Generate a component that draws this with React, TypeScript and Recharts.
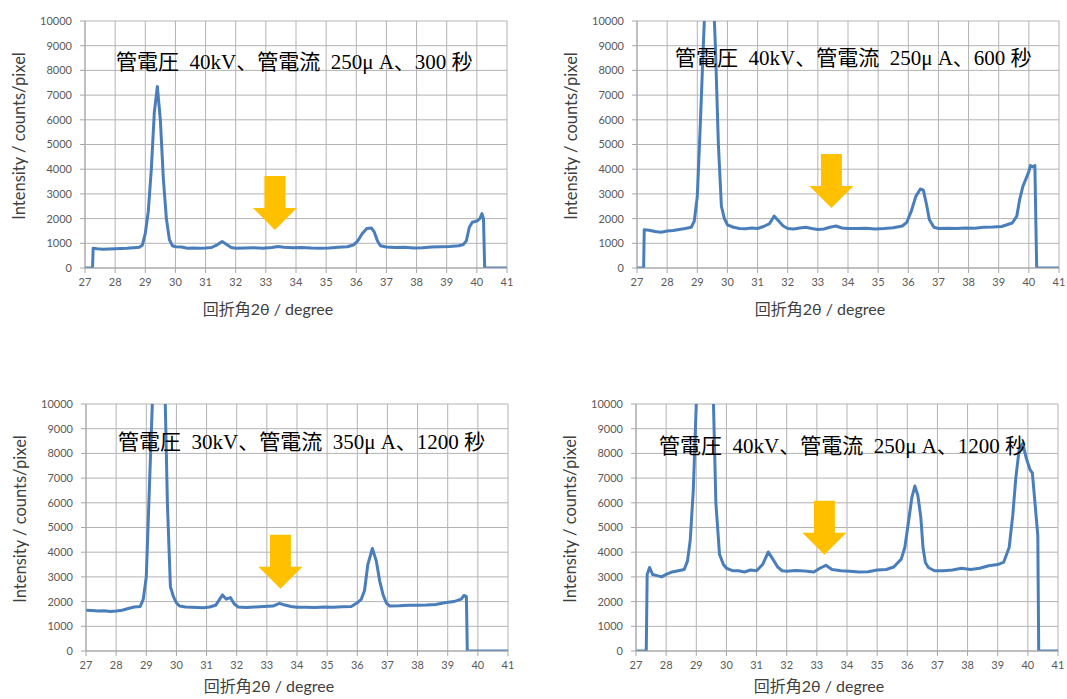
import { LineChart, Line, XAxis, YAxis, CartesianGrid, ReferenceDot } from 'recharts';

// axis ticks shared by all four panels
const angleTicks = [27, 28, 29, 30, 31, 32, 33, 34, 35, 36, 37, 38, 39, 40, 41];
const intensityTicks = [0, 1000, 2000, 3000, 4000, 5000, 6000, 7000, 8000, 9000, 10000];

// 40kV, 250uA, 300 s
const angle300 = [27.0, 27.25, 27.27, 27.4, 27.6, 27.8, 28.0, 28.2, 28.4, 28.6, 28.8, 28.9, 29.0, 29.1, 29.2, 29.3, 29.4, 29.5, 29.6, 29.7, 29.8, 29.9, 30.0, 30.2, 30.4, 30.6, 30.8, 31.0, 31.2, 31.4, 31.55, 31.7, 31.85, 32.0, 32.3, 32.6, 32.9, 33.2, 33.4, 33.6, 33.9, 34.2, 34.5, 34.8, 35.1, 35.4, 35.7, 35.9, 36.05, 36.2, 36.35, 36.5, 36.6, 36.7, 36.8, 37.0, 37.3, 37.6, 37.9, 38.2, 38.5, 38.8, 39.1, 39.4, 39.55, 39.65, 39.75, 39.85, 40.0, 40.1, 40.17, 40.22, 40.26, 41.0];
const counts300 = [0, 0, 800, 780, 760, 770, 780, 790, 800, 820, 840, 920, 1400, 2300, 4000, 6300, 7350, 6000, 3600, 2000, 1150, 900, 860, 850, 800, 810, 800, 810, 830, 950, 1070, 950, 830, 800, 810, 820, 800, 830, 870, 840, 820, 830, 810, 800, 810, 840, 860, 930, 1100, 1400, 1600, 1620, 1450, 1100, 900, 850, 830, 840, 810, 820, 850, 860, 870, 900, 950, 1100, 1650, 1850, 1900, 2000, 2200, 2000, 0, 0];

// 40kV, 250uA, 600 s
const angle600 = [27.0, 27.22, 27.24, 27.4, 27.6, 27.8, 28.0, 28.2, 28.4, 28.6, 28.8, 28.9, 29.0, 29.1, 29.2, 29.4, 29.6, 29.7, 29.8, 29.9, 30.0, 30.2, 30.4, 30.6, 30.8, 31.0, 31.2, 31.4, 31.55, 31.7, 31.85, 32.0, 32.2, 32.4, 32.6, 32.8, 33.0, 33.2, 33.4, 33.6, 33.8, 34.0, 34.3, 34.6, 34.9, 35.2, 35.5, 35.8, 35.95, 36.1, 36.25, 36.4, 36.5, 36.6, 36.7, 36.85, 37.0, 37.3, 37.6, 37.9, 38.2, 38.5, 38.8, 39.1, 39.45, 39.6, 39.7, 39.8, 39.9, 40.0, 40.05, 40.12, 40.2, 40.23, 40.26, 41.0];
const counts600 = [0, 0, 1550, 1530, 1480, 1450, 1500, 1520, 1560, 1600, 1650, 1900, 2900, 5800, 9000, 15000, 9000, 5000, 2500, 2000, 1750, 1650, 1600, 1590, 1620, 1600, 1680, 1800, 2100, 1900, 1700, 1600, 1580, 1620, 1650, 1600, 1560, 1580, 1650, 1700, 1620, 1600, 1600, 1610, 1580, 1600, 1630, 1700, 1850, 2300, 2900, 3200, 3150, 2600, 1950, 1650, 1600, 1610, 1600, 1620, 1610, 1650, 1660, 1680, 1820, 2100, 2800, 3300, 3600, 3900, 4150, 4100, 4150, 2000, 0, 0];

// 30kV, 350uA, 1200 s
const angle1200b = [27.0, 27.2, 27.4, 27.6, 27.8, 28.0, 28.2, 28.4, 28.6, 28.8, 28.9, 29.0, 29.1, 29.2, 29.4, 29.63, 29.7, 29.8, 29.9, 30.0, 30.1, 30.3, 30.5, 30.7, 30.9, 31.1, 31.3, 31.53, 31.65, 31.79, 31.92, 32.05, 32.3, 32.6, 32.9, 33.2, 33.42, 33.6, 33.8, 34.0, 34.3, 34.6, 34.9, 35.2, 35.5, 35.8, 36.0, 36.13, 36.24, 36.35, 36.5, 36.63, 36.74, 36.85, 36.96, 37.08, 37.4, 37.7, 38.0, 38.3, 38.6, 38.9, 39.2, 39.45, 39.54, 39.62, 39.65, 41.0];
const counts1200b = [1650, 1640, 1620, 1630, 1600, 1620, 1650, 1720, 1780, 1800, 2100, 3000, 6500, 10000, 17000, 10000, 6000, 2600, 2200, 1950, 1820, 1780, 1770, 1760, 1750, 1780, 1850, 2270, 2100, 2160, 1900, 1780, 1760, 1780, 1800, 1820, 1930, 1860, 1800, 1770, 1770, 1760, 1780, 1770, 1790, 1800, 1950, 2090, 2450, 3500, 4150, 3650, 2850, 2300, 1950, 1820, 1830, 1850, 1850, 1860, 1880, 1950, 2000, 2100, 2250, 2200, 0, 0];

// 40kV, 250uA, 1200 s
const angle1200a = [27.0, 27.34, 27.37, 27.45, 27.55, 27.7, 27.85, 28.0, 28.2, 28.4, 28.6, 28.71, 28.8, 28.9, 29.0, 29.3, 29.57, 29.65, 29.77, 29.9, 30.0, 30.2, 30.4, 30.6, 30.8, 31.0, 31.2, 31.39, 31.55, 31.7, 31.85, 32.0, 32.3, 32.6, 32.9, 33.1, 33.3, 33.5, 33.8, 34.1, 34.4, 34.7, 35.0, 35.3, 35.55, 35.8, 35.92, 36.03, 36.15, 36.25, 36.35, 36.45, 36.52, 36.6, 36.7, 36.9, 37.2, 37.5, 37.8, 38.1, 38.4, 38.7, 39.0, 39.2, 39.38, 39.5, 39.6, 39.71, 39.83, 39.95, 40.07, 40.15, 40.25, 40.33, 40.36, 41.0];
const counts1200a = [0, 0, 3100, 3380, 3100, 3050, 3000, 3100, 3200, 3250, 3300, 3650, 4500, 6500, 10000, 19000, 10000, 6000, 3920, 3500, 3350, 3250, 3250, 3200, 3280, 3250, 3500, 4010, 3700, 3400, 3250, 3230, 3260, 3240, 3200, 3350, 3470, 3300, 3250, 3230, 3200, 3210, 3280, 3300, 3400, 3720, 4200, 5140, 6200, 6680, 6300, 5400, 4200, 3580, 3380, 3250, 3250, 3280, 3350, 3300, 3350, 3450, 3500, 3600, 4190, 5500, 7000, 8130, 8400, 7800, 7350, 7200, 5800, 4670, 0, 0];

const captions = [
  '管電圧  40kV、管電流  250μ A、300 秒',
  '管電圧  40kV、管電流  250μ A、600 秒',
  '管電圧  30kV、管電流  350μ A、1200 秒',
  '管電圧  40kV、管電流  250μ A、1200 秒',
];

// where the yellow arrows point (angle, intensity)
const arrowTips = [
  [33.3, 1540],
  [33.45, 2430],
  [33.45, 2520],
  [33.25, 3900],
];

const BLUE = '#4a7ebb';
const GRID = '#b3b3b3';
const TICK_FONT = { fill: '#595959', fontSize: 11, fontFamily: 'Lato, "Noto Sans", sans-serif' };

const Arrow = (props: any) => {
  const { cx, cy } = props;
  const pts = [
    [cx, cy],
    [cx - 22, cy - 22],
    [cx - 10.5, cy - 22],
    [cx - 10.5, cy - 54],
    [cx + 10.5, cy - 54],
    [cx + 10.5, cy - 22],
    [cx + 22, cy - 22],
  ].map(p => p.join(',')).join(' ');
  return <polygon points={pts} fill="#FFC000" />;
};

interface PanelProps {
  xs: number[];
  ys: number[];
  caption: string;
  tip: number[];
  left: number;
  top: number;
  capLeft: number;
  capTop: number;
  xTitleTop: number;
}

function Panel({ xs, ys, caption, tip, left, top, capLeft, capTop, xTitleTop }: PanelProps) {
  const data = xs.map((x, i) => ({ angle: x, intensity: ys[i] }));
  return (
    <div style={{ position: 'absolute', left, top, width: 515, height: 316 }}>
      <LineChart width={515} height={316} data={data} margin={{ top: 21, right: 8, left: 10, bottom: 18 }}>
        <CartesianGrid stroke={GRID} strokeWidth={1} />
        <XAxis
          dataKey="angle"
          type="number"
          domain={[27, 41]}
          ticks={angleTicks}
          interval={0}
          allowDataOverflow
          height={30}
          tickSize={5}
          tickMargin={5}
          tick={TICK_FONT}
          axisLine={{ stroke: '#a6a6a6' }}
          tickLine={{ stroke: '#a6a6a6' }}
        />
        <YAxis
          type="number"
          domain={[0, 10000]}
          ticks={intensityTicks}
          interval={0}
          allowDataOverflow
          width={75}
          tickSize={5}
          tickMargin={8}
          tick={TICK_FONT}
          axisLine={{ stroke: '#a6a6a6' }}
          tickLine={{ stroke: '#a6a6a6' }}
        />
        <Line
          dataKey="intensity"
          type="linear"
          stroke={BLUE}
          strokeWidth={3}
          strokeLinejoin="round"
          dot={false}
          isAnimationActive={false}
        />
        <ReferenceDot x={tip[0]} y={tip[1]} shape={Arrow} />
      </LineChart>
      <div
        style={{
          position: 'absolute',
          left: capLeft,
          top: capTop - 15,
          lineHeight: '30px',
          fontSize: 21,
          whiteSpace: 'pre',
          color: '#000',
          fontFamily: '"Liberation Serif", "Noto Sans CJK JP", serif',
        }}
      >
        {caption}
      </div>
      <div
        style={{
          position: 'absolute',
          left: 268 - 100,
          width: 200,
          top: xTitleTop - 11,
          lineHeight: '22px',
          textAlign: 'center',
          fontSize: 16,
          color: '#404040',
          whiteSpace: 'nowrap',
          fontFamily: 'Lato, "Noto Sans CJK JP", sans-serif',
        }}
      >
        回折角2θ / degree
      </div>
      <div
        style={{
          position: 'absolute',
          left: 19 - 120,
          width: 240,
          top: 136 - 11,
          lineHeight: '22px',
          textAlign: 'center',
          fontSize: 16.5,
          color: '#404040',
          whiteSpace: 'nowrap',
          transform: 'rotate(-90deg)',
          fontFamily: 'Lato, "Noto Sans", sans-serif',
        }}
      >
        Intensity / counts/pixel
      </div>
    </div>
  );
}

export default function App() {
  return (
    <div
      style={{
        position: 'absolute',
        left: 0,
        top: 0,
        width: 1067,
        height: 699,
        overflow: 'hidden',
        background: '#fff',
      }}
    >
      <Panel xs={angle300} ys={counts300} caption={captions[0]} tip={arrowTips[0]} left={0} top={0} capLeft={116} capTop={62} xTitleTop={309} />
      <Panel xs={angle600} ys={counts600} caption={captions[1]} tip={arrowTips[1]} left={552} top={0} capLeft={123} capTop={58} xTitleTop={309} />
      <Panel xs={angle1200b} ys={counts1200b} caption={captions[2]} tip={arrowTips[2]} left={1} top={383} capLeft={117} capTop={59} xTitleTop={303} />
      <Panel xs={angle1200a} ys={counts1200a} caption={captions[3]} tip={arrowTips[3]} left={551} top={383} capLeft={108} capTop={63} xTitleTop={303} />
    </div>
  );
}
